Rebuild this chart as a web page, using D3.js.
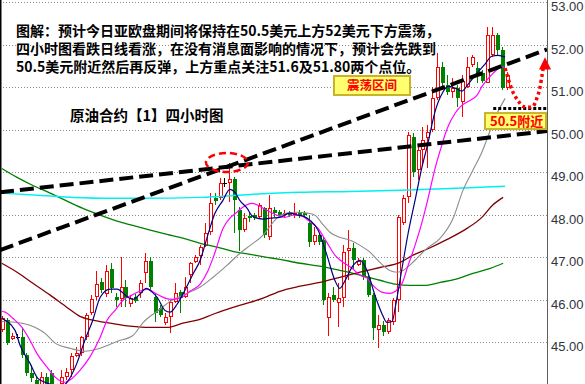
<!DOCTYPE html>
<html>
<head>
<meta charset="utf-8">
<script src="https://cdn.jsdelivr.net/npm/d3@7/dist/d3.min.js"></script>
<style>
  body { margin: 0; background: white; }
  svg { display: block; }
</style>
</head>
<body>
<div id="container"></div>
<script>
let w = 585; // single chart
let h = 384;
let axisX = 547; // price axis line

// 4 hour candles, index 0 = leftmost
let opens = [45.28,45.52,45.07,45.12,45.12,44.69,44.27,44.11,43.87,44.18,
  44.27,43.92,44.01,44.18,44.34,44.67,44.74,45.12,45.68,46.06,
  46.41,46.13,46.72,46.06,46.01,46.30,45.89,46.06,46.15,46.62,
  46.91,46.06,45.80,45.45,45.59,45.94,46.18,46.06,46.58,46.88,
  47.02,47.26,47.59,48.39,48.39,48.74,48.76,48.84,48.11,47.64,
  47.97,47.99,47.94,48.15,47.47,48.11,48.06,47.99,48.04,47.99,
  48.06,48.04,47.80,47.35,47.52,47.40,45.56,46.11,45.92,46.04,
  47.14,47.21,46.81,46.93,46.53,46.11,45.28,45.40,45.24,45.47,
  45.99,47.80,48.41,49.82,49.05,49.52,49.80,49.99,50.76,51.47,
  51.05,50.88,50.98,50.65,51.00,51.52,51.45,51.33,51.09,51.75,
  52.22,51.87,50.98];
let highs = [45.61,45.56,45.21,45.19,45.33,44.74,44.46,44.18,44.29,44.27,
  44.34,43.97,44.34,44.39,44.74,44.88,45.16,45.68,46.11,46.67,
  46.51,46.81,46.86,46.15,47.00,46.46,46.11,46.13,46.46,47.09,
  47.00,46.15,45.87,45.68,45.99,46.39,46.22,46.53,46.88,47.05,
  47.28,47.80,48.51,48.51,48.86,48.86,49.21,48.88,48.18,48.04,
  48.06,48.04,48.27,48.18,48.46,48.18,48.11,48.11,48.08,48.27,
  48.11,48.08,47.99,47.71,47.56,47.47,46.15,46.30,46.39,47.28,
  47.64,47.33,46.98,46.98,46.62,46.15,45.64,45.49,45.56,46.04,
  47.99,48.46,49.94,49.92,49.59,50.06,50.11,51.00,51.80,51.59,
  51.28,51.21,51.05,51.28,51.71,51.75,51.59,51.40,52.41,52.41,
  52.27,51.94,51.35];
let lows = [45.24,44.93,45.05,45.07,44.62,44.20,44.06,43.82,43.82,43.82,
  43.82,43.68,43.92,44.11,44.18,44.65,44.67,45.05,45.64,45.99,
  46.15,46.06,46.15,45.82,45.82,45.82,45.82,45.92,46.04,46.39,
  46.22,45.47,45.59,45.40,45.21,45.92,45.68,46.04,46.39,46.86,
  46.81,47.24,47.52,48.22,48.34,48.65,48.29,47.56,47.16,47.59,
  47.82,47.87,47.92,47.45,47.40,47.94,47.94,47.94,47.94,47.92,
  47.92,47.94,47.24,47.28,47.28,45.87,45.16,45.94,45.35,45.82,
  46.46,46.69,46.79,46.46,46.06,45.05,44.86,45.16,45.19,45.40,
  45.71,47.75,48.27,48.88,48.81,49.16,49.09,49.94,50.69,50.93,
  50.81,50.76,50.53,50.29,50.98,51.47,51.09,51.09,51.09,51.71,
  51.75,50.93,50.93];
let closes = [45.56,44.98,45.14,45.12,44.69,44.27,44.15,43.92,44.18,43.87,
  43.92,43.75,44.18,44.29,44.67,44.74,45.12,45.64,46.01,46.37,
  46.22,46.67,46.27,45.99,46.30,46.04,46.04,45.97,46.39,46.91,
  46.30,45.68,45.64,45.59,45.94,46.15,46.04,46.30,46.86,47.00,
  47.24,47.56,48.27,48.32,48.74,48.74,48.84,48.34,47.64,47.92,
  47.92,47.92,48.22,47.52,48.15,48.04,47.99,48.04,47.99,48.04,
  47.97,47.99,47.35,47.52,47.35,45.99,46.06,45.99,46.04,47.12,
  47.21,46.93,46.91,46.53,46.11,45.33,45.40,45.24,45.52,45.99,
  47.94,48.39,49.87,49.00,49.52,49.75,49.94,50.74,51.47,51.09,
  50.88,50.98,50.74,51.16,51.47,51.71,51.28,51.16,52.22,52.22,
  51.87,50.98,51.28];

let priceTicks = [45, 46, 47, 48, 49, 50, 51, 52, 53];

// moving averages as [candle index, price]
let maNavy = [[0,45.56],[2.7,45.28],[3.7,44.93],[5.7,44.51],[7.3,44.15],[8.75,44.06],[9.8,44.01],[11.2,43.92],
  [13.2,44.06],[15.2,44.51],[16.8,45.05],[18.4,45.52],[19.9,46.06],[21.9,46.25],[23.3,46.25],[25.3,46.08],
  [26.5,46.01],[27.9,46.13],[29.2,46.27],[30.4,46.18],[31.4,46.06],[33,45.75],[34,45.71],[35.4,45.89],
  [37,46.22],[38.7,46.62],[40.1,46.93],[41.5,47.47],[43.1,48.04],[44.7,48.34],[46.1,48.60],[47.1,48.53],
  [48.1,48.34],[49.6,48.15],[50.6,47.97],[51.6,47.92],[52.8,47.90],[54.2,47.92],[56.2,47.94],[58.2,48.04],
  [59.9,47.99],[60.9,47.97],[62.3,47.87],[63.9,47.64],[65.7,47.05],[67.3,46.46],[68.3,46.27],[69.4,46.46],
  [71,46.81],[72.4,46.93],[73.8,46.69],[75.4,46.11],[76.8,45.68],[77.8,45.47],[78.9,45.49],[79.5,45.82],
  [80.9,46.76],[82.1,47.56],[83.5,48.34],[84.9,49.12],[86.1,49.68],[87.5,50.41],[89,50.86],[90.2,51.02],
  [91.6,50.98],[93,50.91],[94.2,51.07],[96,51.33],[97.6,51.54],[99,51.73],[100.3,51.75],[101.7,51.71]];
let maPink = [[0,45.73],[0.7,45.71],[2.3,45.56],[4.1,45.35],[5.7,45.05],[7.1,44.74],[9.2,44.41],[10.8,44.18],
  [12.8,44.06],[14.2,44.15],[15.8,44.34],[17.8,44.65],[19.9,45.12],[21.3,45.52],[22.9,45.75],[24.5,45.99],
  [26.3,46.11],[27.9,46.20],[29.4,46.25],[31.4,46.13],[33,46.04],[34.6,46.01],[36.4,46.06],[38,46.20],
  [40.1,46.37],[41.7,46.69],[43.1,47.12],[44.7,47.68],[46.1,47.92],[47.5,48.06],[49.2,48.22],[50.6,48.27],
  [51.8,48.22],[53.2,48.13],[55.6,47.99],[57.2,47.94],[58.9,47.99],[60.7,47.97],[61.9,47.87],[63.9,47.68],
  [65.7,47.35],[67.3,47.05],[69,46.88],[70.8,46.74],[72.4,46.58],[73.8,46.51],[75,46.34],[76.8,46.18],
  [78.4,46.15],[79.5,46.20],[80.9,46.39],[82.1,46.81],[83.5,47.28],[84.9,47.82],[86.1,48.37],[87.5,49.07],
  [88.6,49.52],[90,50.03],[91.6,50.39],[93,50.58],[94.6,50.69],[96,50.81],[97.2,51.05],[98.7,51.26],
  [100.1,51.42],[101.1,51.49],[101.9,51.40]];
let maGray = [[0,45.49],[2.7,45.47],[5.7,45.40],[8.75,45.21],[10.8,44.98],[13.8,44.86],[16.8,44.79],[19.9,44.86],
  [23.3,45.02],[26.5,45.16],[28.6,45.47],[31.4,45.73],[34.4,45.99],[37.4,46.15],[40.1,46.30],[42.7,46.53],
  [45.5,46.81],[48.1,47.09],[50.2,47.28],[52.8,47.52],[54.2,47.73],[55.6,47.92],[57.6,48.04],[59.7,48.06],
  [61.7,48.04],[63.3,47.99],[64.7,47.80],[66.3,47.59],[68.3,47.47],[70.4,47.40],[72.4,47.28],[74.4,47.12],
  [76.4,46.88],[78.4,46.69],[79.9,46.65],[81.1,46.69],[83.5,46.93],[85.9,47.21],[88.6,47.45],[91.2,47.92],
  [93.2,48.58],[95.2,49.05],[97,49.47],[98.7,49.99],[99.7,50.29],[101.7,50.74]];
let maMaroon = [[0,46.86],[3.1,46.65],[6.3,46.39],[9.8,46.11],[13.2,45.82],[15.8,45.61],[18.4,45.52],[21.9,45.45],
  [25.9,45.38],[30,45.35],[33.4,45.35],[36.6,45.45],[39.5,45.52],[42.7,45.66],[46.1,45.80],[49.6,45.92],
  [52.8,46.04],[56.2,46.20],[60.3,46.32],[64.3,46.41],[68.3,46.53],[72.4,46.65],[76.4,46.76],[80.5,46.88],
  [83.1,47.05],[85.9,47.19],[90,47.42],[94,47.68],[97,47.94],[99.1,48.22],[101.3,48.41]];
let maGreen = [[0,49.09],[3.1,48.88],[6.3,48.69],[9.8,48.51],[13.2,48.32],[16.4,48.15],[19.9,47.99],[23.3,47.85],
  [26.5,47.75],[30,47.64],[33.4,47.54],[36.6,47.45],[40.1,47.33],[43.5,47.24],[46.7,47.14],[50.2,47.07],
  [53.6,47.00],[56.2,46.95],[60.3,46.86],[64.3,46.79],[68.3,46.69],[72.4,46.58],[76.4,46.46],[79.5,46.37],
  [82.5,46.34],[85.5,46.34],[88.6,46.41],[91.6,46.48],[95.2,46.62],[98.7,46.74],[101.3,46.86]];
let maCyan = [[0,48.51],[9.8,48.44],[19.9,48.39],[27.9,48.39],[40.1,48.41],[50.2,48.48],[60.3,48.53],
  [70.4,48.55],[80.5,48.58],[90.6,48.62],[101.7,48.67]];

// hand drawn marks, also [candle index, price]
let trendSteep = [[-0.34, 47.17], [110.16, 51.89]];
let trendFlat = [[-0.34, 48.53], [110.16, 49.97]];
let crossCircle = [45.5, 49.23];
let supportLevel = 50.5;
let supportFrom = 99.3;
let bounceArrow = [[101.7,51.45],[102.3,51.21],[103.3,50.88],[104.3,50.69],[105.3,50.55],[106.3,50.53],
  [107.3,50.55],[108.1,50.74],[108.75,51.0],[109.15,51.28],[109.4,51.45]];
let arrowTip = [109.76, 51.71];
let arrowBase = 51.42;

let noteLines = [
  "图解：预计今日亚欧盘期间将保持在50.5美元上方52美元下方震荡，",
  "四小时图看跌日线看涨，在没有消息面影响的情况下，预计会先跌到",
  "50.5美元附近然后再反弹，上方重点关注51.6及51.80两个点位。"
];
let chartTitle = "原油合约【1】四小时图";
let rangeLabel = "震荡区间";
let supportLabel = "50.5附近";

let x = d3.scaleLinear().domain([0, 102]).range([1.7, 506.6]);
let y = d3.scaleLinear().domain([45, 53]).range([342.3, 2.3]);

let viz = d3.select("#container")
  .append("svg")
    .attr("width", w)
    .attr("height", h)
    .style("background-color", "white")
    .style("font-family", "'Noto Sans CJK SC', sans-serif");

viz.append("defs").append("clipPath").attr("id", "plot")
  .append("rect").attr("x", 0).attr("y", 0).attr("width", axisX).attr("height", h);

// dotted grid
viz.append("g").selectAll("line")
  .data(priceTicks)
  .enter()
  .append("line")
    .attr("x1", 0).attr("x2", axisX)
    .attr("y1", d => Math.round(y(d)) + 0.5)
    .attr("y2", d => Math.round(y(d)) + 0.5)
    .attr("stroke", "#8c8c8c")
    .attr("stroke-dasharray", "1,2");

// price axis on the right, labels only
let axis = d3.axisRight(y).tickValues(priceTicks).tickFormat(d3.format(".2f")).tickSize(0).tickPadding(4);
let ag = viz.append("g").attr("transform", "translate(" + axisX + ",0)").call(axis);
ag.select(".domain").remove();
ag.selectAll("text")
  .attr("dy", null)
  .attr("y", 8.5)
  .style("font-family", "'Liberation Sans', Arial, sans-serif")
  .style("font-size", "13px")
  .attr("fill", "#30343c");
viz.append("line").attr("x1", axisX + 0.5).attr("x2", axisX + 0.5).attr("y1", 0).attr("y2", h)
  .attr("stroke", "#606060");
viz.append("line").attr("x1", 0.75).attr("x2", 0.75).attr("y1", 0).attr("y2", h)
  .attr("stroke", "black").attr("stroke-width", 1.5);

// candles
let plot = viz.append("g").attr("clip-path", "url(#plot)");
let candles = opens.map((o, i) => ({i: i, o: o, hi: highs[i], lo: lows[i], c: closes[i]}));

candles.forEach(d => {
  let cx = Math.round(x(d.i));
  let top = Math.round(y(Math.max(d.o, d.c)));
  let bot = Math.round(y(Math.min(d.o, d.c)));
  let yh = Math.round(y(d.hi));
  let yl = Math.round(y(d.lo));
  if (d.c > d.o) {
    plot.append("line").attr("x1", cx + 0.5).attr("x2", cx + 0.5).attr("y1", yh).attr("y2", top)
      .attr("stroke", "#ff0000");
    plot.append("line").attr("x1", cx + 0.5).attr("x2", cx + 0.5).attr("y1", bot).attr("y2", yl)
      .attr("stroke", "#ff0000");
    plot.append("rect").attr("x", cx - 0.5).attr("y", top + 0.5).attr("width", 3).attr("height", Math.max(bot - top - 1, 1))
      .attr("fill", "white").attr("stroke", "#ff0000");
  } else if (d.c < d.o) {
    plot.append("line").attr("x1", cx + 0.5).attr("x2", cx + 0.5).attr("y1", yh).attr("y2", yl)
      .attr("stroke", "#008000");
    plot.append("rect").attr("x", cx - 1).attr("y", top).attr("width", 4).attr("height", Math.max(bot - top, 1))
      .attr("fill", "#008000");
  } else {
    plot.append("line").attr("x1", cx + 0.5).attr("x2", cx + 0.5).attr("y1", yh).attr("y2", yl)
      .attr("stroke", "black");
    plot.append("line").attr("x1", cx - 1).attr("x2", cx + 3).attr("y1", top + 0.5).attr("y2", top + 0.5)
      .attr("stroke", "black");
  }
});

// moving averages
let line = d3.line().x(d => x(d[0])).y(d => y(d[1])).curve(d3.curveMonotoneX);
let maList = [
  [maGreen, "#008000", 1.3],
  [maCyan, "#00f0f0", 1.5],
  [maMaroon, "#800000", 1.3],
  [maGray, "#8c8c8c", 1.1],
  [maPink, "#ff00ff", 1.2],
  [maNavy, "#000080", 1.2]
];
maList.forEach(m => {
  plot.append("path").attr("d", line(m[0]))
    .attr("fill", "none").attr("stroke", m[1]).attr("stroke-width", m[2]);
});

// dashed trend lines
let straight = d3.line().x(d => x(d[0])).y(d => y(d[1]));
[trendSteep, trendFlat].forEach(t => {
  plot.append("path").attr("d", straight(t))
    .attr("fill", "none").attr("stroke", "black").attr("stroke-width", 4)
    .attr("stroke-dasharray", "14,6");
});

// red dashed ellipse where the trend lines cross
plot.append("ellipse")
  .attr("cx", x(crossCircle[0])).attr("cy", y(crossCircle[1]))
  .attr("rx", 21).attr("ry", 9.5)
  .attr("fill", "none").attr("stroke", "#ff0000").attr("stroke-width", 2.5)
  .attr("stroke-dasharray", "7,4");

// 50.5 support dots
viz.append("line")
  .attr("x1", x(supportFrom)).attr("x2", axisX)
  .attr("y1", y(supportLevel)).attr("y2", y(supportLevel))
  .attr("stroke", "black").attr("stroke-width", 3).attr("stroke-dasharray", "3,2");

// red dotted bounce arrow
viz.append("path").attr("d", line(bounceArrow))
  .attr("fill", "none").attr("stroke", "#ff0000").attr("stroke-width", 3.5)
  .attr("stroke-dasharray", "3,3");
let tx = x(arrowTip[0]), ty = y(arrowTip[1]), by = y(arrowBase);
viz.append("path")
  .attr("d", "M" + tx + "," + ty + "L" + (tx - 6) + "," + by + "L" + (tx + 6) + "," + by + "Z")
  .attr("fill", "#ff0000");

// yellow boxes
let rangeBox = viz.append("g");
rangeBox.append("rect").attr("x", 334).attr("y", 76).attr("width", 76).attr("height", 19)
  .attr("fill", "#ffff70").attr("stroke", "#c8b428").attr("stroke-width", 2);
rangeBox.append("text").attr("x", 372).attr("y", 90).attr("text-anchor", "middle")
  .attr("fill", "#ff0000").style("font-size", "12.5px").style("font-weight", "bold")
  .text(rangeLabel);

let supBox = viz.append("g");
supBox.append("rect").attr("x", 485).attr("y", y(supportLevel) + 4.5).attr("width", 61).attr("height", 16)
  .attr("fill", "#ffff70").attr("stroke", "#c8b428").attr("stroke-width", 2);
supBox.append("text").attr("x", 490).attr("y", y(supportLevel) + 17.5)
  .attr("fill", "#ff0000").style("font-size", "13px").style("font-weight", "bold")
  .text(supportLabel);

// notes
viz.append("g").selectAll("text")
  .data(noteLines)
  .enter()
  .append("text")
    .attr("x", 16)
    .attr("y", (d, i) => 35.5 + i * 18.3)
    .attr("fill", "black")
    .style("font-size", "14px")
    .style("font-weight", "bold")
    .text(d => d);

viz.append("text").attr("x", 70).attr("y", 121)
  .attr("fill", "black").style("font-size", "14.5px").style("font-weight", "bold")
  .text(chartTitle);
</script>
</body>
</html>
